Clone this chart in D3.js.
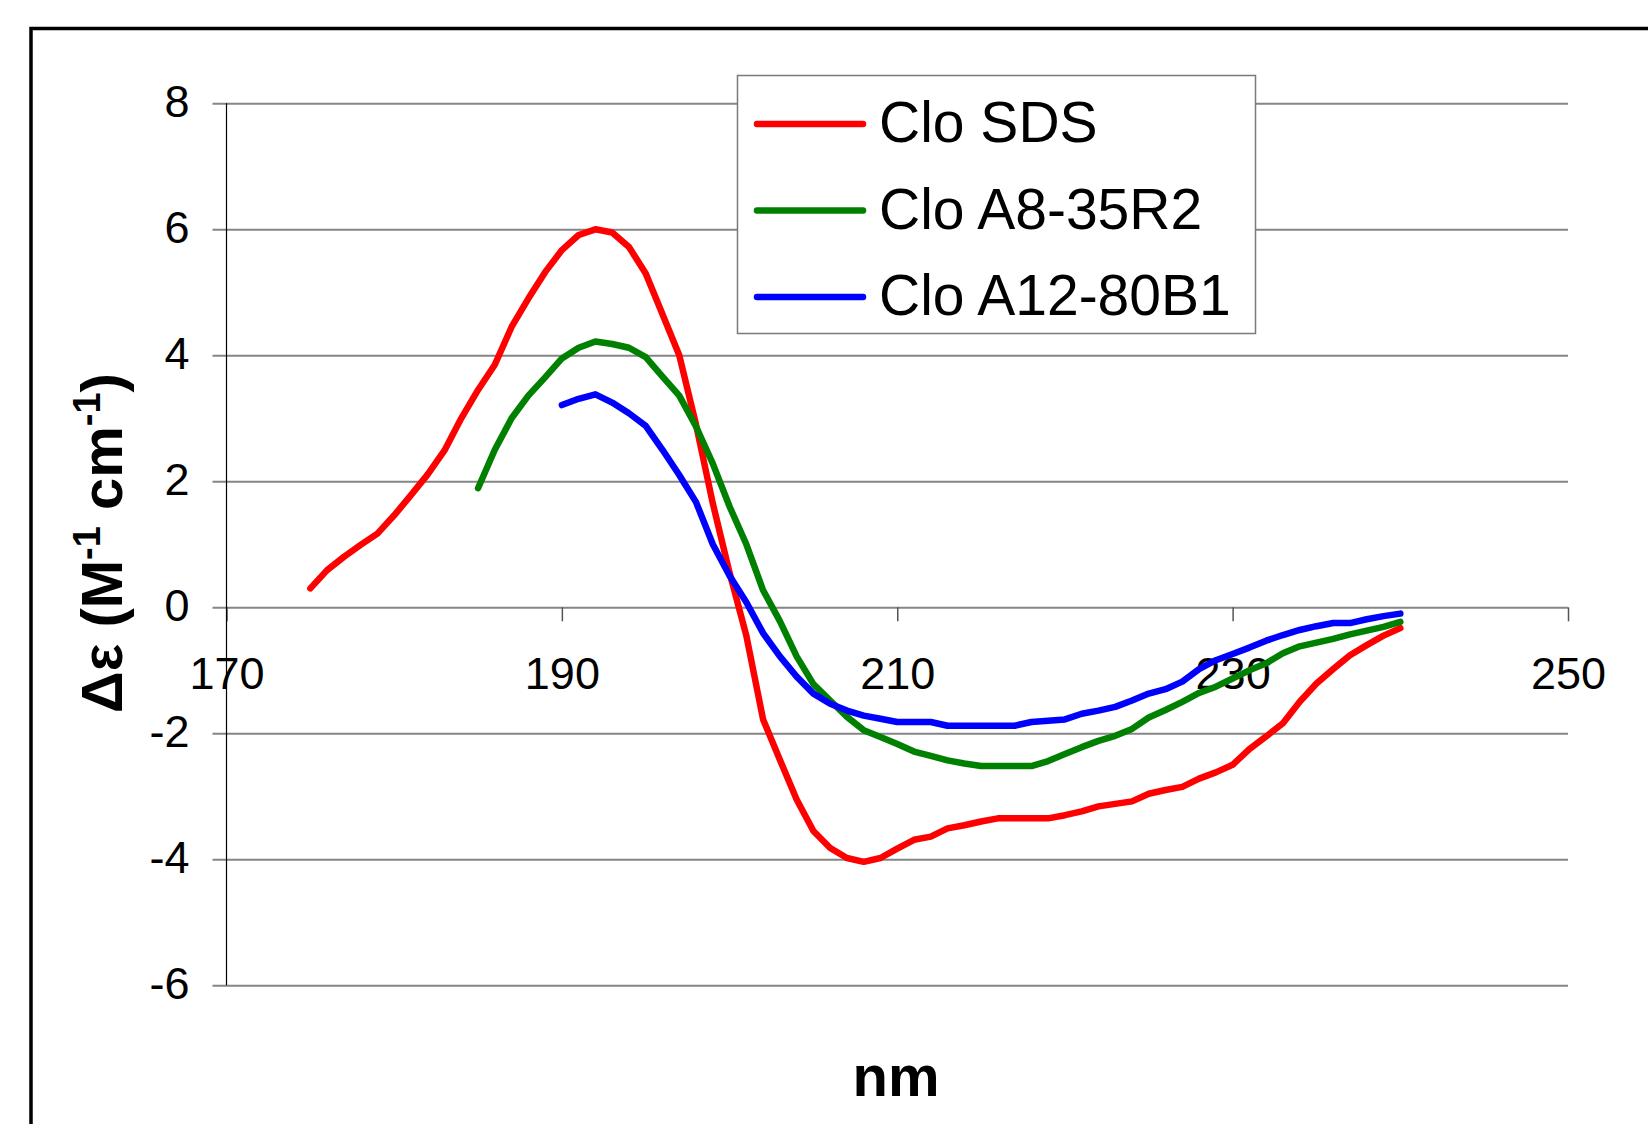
<!DOCTYPE html>
<html>
<head>
<meta charset="utf-8">
<script src="https://cdn.jsdelivr.net/npm/d3@7"></script>
<style>
  html, body { margin: 0; padding: 0; background: #fff; }
  svg { display: block; font-family: "Liberation Sans", Arial, sans-serif; }
</style>
</head>
<body>
<svg id="chart" width="1648" height="1124"></svg>
<script>
// ---------------- data ----------------
const seriesNames = ["Clo SDS", "Clo A8-35R2", "Clo A12-80B1"];

const nmSDS = [175,176,177,178,179,180,181,182,183,184,185,186,187,188,189,190,191,192,193,194,195,196,197,198,199,200,201,202,203,204,205,206,207,208,209,210,211,212,213,214,215,216,217,218,219,220,221,222,223,224,225,226,227,228,229,230,231,232,233,234,235,236,237,238,239,240];
const valSDS = [0.30,0.59,0.80,0.99,1.17,1.46,1.78,2.11,2.49,3.00,3.45,3.85,4.45,4.90,5.32,5.67,5.91,6.00,5.95,5.72,5.30,4.65,4.00,2.90,1.65,0.55,-0.45,-1.78,-2.42,-3.05,-3.55,-3.82,-3.98,-4.04,-3.98,-3.83,-3.69,-3.64,-3.51,-3.46,-3.40,-3.35,-3.35,-3.35,-3.35,-3.30,-3.24,-3.16,-3.12,-3.08,-2.96,-2.90,-2.85,-2.72,-2.62,-2.50,-2.25,-2.05,-1.84,-1.50,-1.21,-0.98,-0.76,-0.60,-0.45,-0.33];

const nmA8 = [185,186,187,188,189,190,191,192,193,194,195,196,197,198,199,200,201,202,203,204,205,206,207,208,209,210,211,212,213,214,215,216,217,218,219,220,221,222,223,224,225,226,227,228,229,230,231,232,233,234,235,236,237,238,239,240];
const valA8 = [1.89,2.50,3.00,3.36,3.65,3.95,4.12,4.22,4.18,4.12,3.97,3.66,3.36,2.87,2.28,1.60,1.00,0.27,-0.22,-0.78,-1.22,-1.48,-1.74,-1.95,-2.06,-2.17,-2.29,-2.36,-2.43,-2.48,-2.52,-2.52,-2.52,-2.52,-2.44,-2.33,-2.22,-2.12,-2.04,-1.93,-1.75,-1.63,-1.50,-1.36,-1.26,-1.13,-1.00,-0.89,-0.73,-0.62,-0.56,-0.50,-0.43,-0.37,-0.31,-0.23];

const nmA12 = [190,191,192,193,194,195,196,197,198,199,200,201,202,203,204,205,206,207,208,209,210,211,212,213,214,215,216,217,218,219,220,221,222,223,224,225,226,227,228,229,230,231,232,233,234,235,236,237,238,239,240];
const valA12 = [3.21,3.31,3.38,3.25,3.08,2.88,2.50,2.10,1.67,1.00,0.50,0.08,-0.41,-0.78,-1.10,-1.37,-1.53,-1.64,-1.72,-1.77,-1.82,-1.82,-1.82,-1.88,-1.88,-1.88,-1.88,-1.88,-1.82,-1.80,-1.78,-1.69,-1.64,-1.58,-1.48,-1.37,-1.30,-1.18,-0.98,-0.84,-0.74,-0.64,-0.53,-0.44,-0.36,-0.30,-0.25,-0.25,-0.19,-0.14,-0.10];

const xTicks = [170, 190, 210, 230, 250];
const yTicks = [-6, -4, -2, 0, 2, 4, 6, 8];

// ---------------- layout ----------------
const svg = d3.select("#chart");
const plotLeft = 226.5, plotRight = 1568, plotTop = 103.3, plotBottom = 985.3;

const x = d3.scaleLinear().domain([170, 250]).range([plotLeft, plotRight]);
const y = d3.scaleLinear().domain([-6, 8]).range([plotBottom, plotTop]);
const color = d3.scaleOrdinal().domain(seriesNames).range(["#ff0000", "#008000", "#0000ff"]);

const series = [
  { name: seriesNames[0], pts: nmSDS.map((n, i) => [n, valSDS[i]]) },
  { name: seriesNames[1], pts: nmA8.map((n, i) => [n, valA8[i]]) },
  { name: seriesNames[2], pts: nmA12.map((n, i) => [n, valA12[i]]) }
];

// outer frame (only top & left visible)
svg.append("rect")
  .attr("x", 31).attr("y", 28.5)
  .attr("width", 1700).attr("height", 1200)
  .attr("fill", "none").attr("stroke", "#000").attr("stroke-width", 3.5);

const plainFmt = d => String(d);

// y axis with gridlines
const yAxis = d3.axisLeft(y).tickValues(yTicks)
  .tickSizeInner(-(plotRight - plotLeft)).tickSizeOuter(0).tickPadding(37)
  .tickFormat(plainFmt);
const gy = svg.append("g").attr("transform", `translate(${plotLeft},0)`).call(yAxis);
gy.select(".domain").remove();
gy.selectAll(".tick line")
  .attr("x1", -14).attr("x2", plotRight - plotLeft)
  .attr("stroke", "#858585").attr("stroke-width", 2);
gy.selectAll(".tick text")
  .attr("font-size", 45).attr("fill", "#000")
  .attr("font-family", "'Liberation Sans', Arial, sans-serif")
  .attr("dy", "0.30em");

// x axis at y = 0
const xAxis = d3.axisBottom(x).tickValues(xTicks).tickSize(14).tickPadding(36)
  .tickFormat(plainFmt);
const gx = svg.append("g").attr("transform", `translate(0,${y(0)})`).call(xAxis);
gx.select(".domain").remove();
gx.selectAll(".tick line").attr("stroke", "#555").attr("stroke-width", 1.5);
gx.selectAll(".tick text")
  .attr("font-size", 45).attr("fill", "#000")
  .attr("font-family", "'Liberation Sans', Arial, sans-serif");

// vertical axis line
svg.append("line")
  .attr("x1", plotLeft).attr("x2", plotLeft)
  .attr("y1", y(8)).attr("y2", y(-6))
  .attr("stroke", "#000").attr("stroke-width", 1.2);

// lines
const line = d3.line().x(d => x(d[0])).y(d => y(d[1]));
svg.append("g").selectAll("path").data(series).join("path")
  .attr("d", d => line(d.pts))
  .attr("fill", "none")
  .attr("stroke", d => color(d.name))
  .attr("stroke-width", 6.5)
  .attr("stroke-linejoin", "round")
  .attr("stroke-linecap", "round");

// legend
const lg = svg.append("g");
lg.append("rect")
  .attr("x", 737.5).attr("y", 75.5).attr("width", 518).attr("height", 258)
  .attr("fill", "#fff").attr("stroke", "#7a7a7a").attr("stroke-width", 1.5);
const legendY = d3.scalePoint().domain(seriesNames).range([124, 297]);
const items = lg.selectAll("g.item").data(seriesNames).join("g").attr("class", "item");
items.append("line")
  .attr("x1", 757).attr("x2", 863)
  .attr("y1", d => legendY(d)).attr("y2", d => legendY(d))
  .attr("stroke", d => color(d)).attr("stroke-width", 6.5).attr("stroke-linecap", "round");
items.append("text")
  .attr("x", 879).attr("y", d => legendY(d) + 18)
  .attr("font-size", 57).attr("fill", "#000")
  .text(d => d);

// y-axis title
const yt = svg.append("text")
  .attr("transform", "translate(122,543) rotate(-90)")
  .attr("text-anchor", "middle")
  .attr("font-size", 58).attr("font-weight", "bold").attr("fill", "#000");
yt.append("tspan").text("\u0394\u03b5 (M");
yt.append("tspan").attr("font-size", 38).attr("dy", -22).text("-1");
yt.append("tspan").attr("dy", 22).text(" cm");
yt.append("tspan").attr("font-size", 38).attr("dy", -22).text("-1");
yt.append("tspan").attr("dy", 22).text(")");

// x-axis title
svg.append("text")
  .attr("x", 896).attr("y", 1096)
  .attr("text-anchor", "middle")
  .attr("font-size", 58).attr("font-weight", "bold").attr("fill", "#000")
  .text("nm");
</script>
</body>
</html>
